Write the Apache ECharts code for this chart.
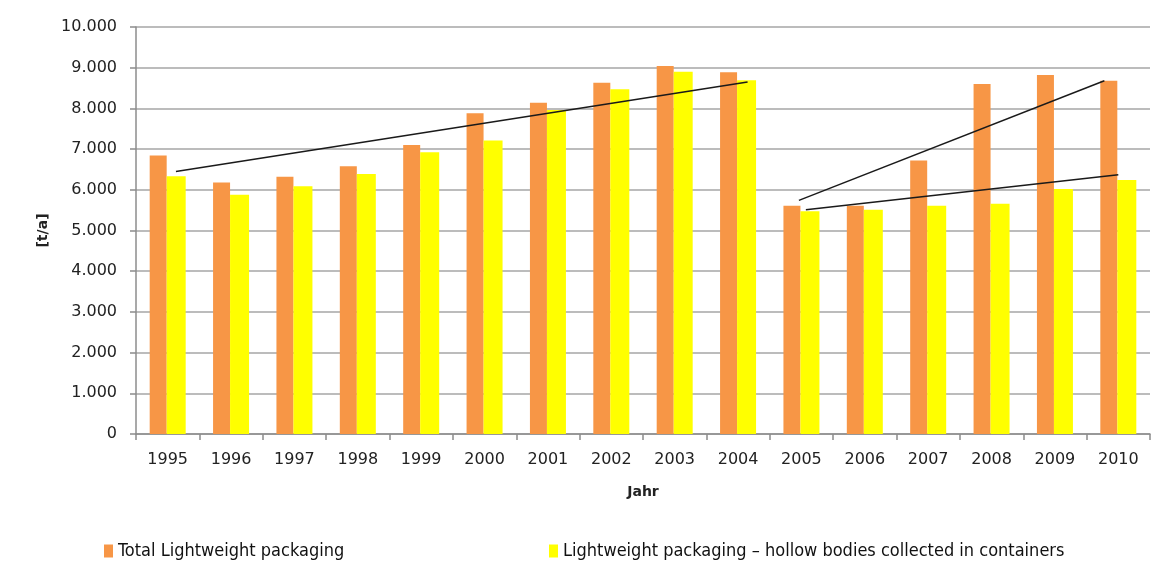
<!DOCTYPE html>
<html>
<head>
<meta charset="utf-8">
<title>Lightweight packaging</title>
<script src="https://cdn.jsdelivr.net/npm/echarts@6/dist/echarts.min.js"></script>
<style>
  html, body { margin: 0; padding: 0; background: #fff; }
  #chart { width: 1164px; height: 574px; }
</style>
</head>
<body>
<div id="chart"></div>
<script>
// data
const years = ['1995', '1996', '1997', '1998', '1999', '2000', '2001', '2002',
  '2003', '2004', '2005', '2006', '2007', '2008', '2009', '2010']
const totalLvp = [6840, 6180, 6320, 6580, 7100, 7880, 8140, 8630,
  9040, 8890, 5610, 5610, 6720, 8600, 8820, 8680]
const hollowBodies = [6330, 5880, 6090, 6390, 6920, 7210, 7960, 8470,
  8900, 8690, 5470, 5510, 5610, 5660, 6020, 6240]

// trend lines (x in years, drawn on a hidden value axis)
const trendAll = [[1995.13, 6450], [2004.15, 8650]]
const trendTotalLate = [[2004.96, 5740], [2009.78, 8680]]
const trendHollowLate = [[2005.07, 5510], [2010.0, 6370]]

const yTicks = { min: 0, max: 10000, interval: 1000 }

const fmt = v => v === 0 ? '0' : String(v).replace(/\B(?=(\d{3})+(?!\d))/g, '.')

const chart = echarts.init(document.getElementById('chart'))

const legendFont = {
  fontFamily: 'DejaVu Sans Condensed, Liberation Sans Narrow, Liberation Sans, sans-serif',
  fontSize: 18,
  color: '#111'
}

const trendSeries = (data) => ({
  type: 'line',
  xAxisIndex: 1,
  data: data,
  symbol: 'none',
  silent: true,
  lineStyle: { color: '#1a1a1a', width: 1.5 },
  z: 5
})

const option = {
  backgroundColor: '#fff',
  animation: false,
  textStyle: { fontFamily: 'DejaVu Sans, Verdana, sans-serif' },
  grid: { left: 136, right: 14, top: 27, bottom: 140 },
  legend: [
    {
      data: ['Total Lightweight packaging'],
      left: 99, top: 537,
      itemWidth: 9, itemHeight: 13, icon: 'rect',
      textStyle: legendFont
    },
    {
      data: ['Lightweight packaging \u2013 hollow bodies collected in containers'],
      left: 544, top: 537,
      itemWidth: 9, itemHeight: 13, icon: 'rect',
      textStyle: legendFont
    }
  ],
  xAxis: [
    {
      type: 'category',
      data: years,
      name: 'Jahr',
      nameLocation: 'middle',
      nameGap: 51,
      nameTextStyle: { fontWeight: 'bold', fontSize: 14, color: '#222' },
      axisLine: { lineStyle: { color: '#8c8c8c', width: 1.5 } },
      axisTick: { show: true, length: 6, lineStyle: { color: '#8c8c8c', width: 1.5 } },
      axisLabel: { fontSize: 16, color: '#222', margin: 18 }
    },
    {
      type: 'value',
      min: 1994.5,
      max: 2010.5,
      show: false
    }
  ],
  yAxis: {
    type: 'value',
    min: yTicks.min,
    max: yTicks.max,
    interval: yTicks.interval,
    name: '[t/a]',
    nameLocation: 'middle',
    nameGap: 83,
    nameTextStyle: { fontWeight: 'bold', fontSize: 14, color: '#222' },
    axisLine: { show: true, lineStyle: { color: '#8c8c8c', width: 1.5 } },
    axisTick: { show: true, length: 6, lineStyle: { color: '#8c8c8c', width: 1.5 } },
    axisLabel: { fontSize: 16, color: '#222', margin: 19, formatter: fmt },
    splitLine: { lineStyle: { color: '#a6a6a6', width: 1.5 } }
  },
  series: [
    {
      name: 'Total Lightweight packaging',
      type: 'bar',
      data: totalLvp,
      itemStyle: { color: '#F79646' },
      barWidth: 17,
      barGap: '0%'
    },
    {
      name: 'Lightweight packaging \u2013 hollow bodies collected in containers',
      type: 'bar',
      data: hollowBodies,
      itemStyle: { color: '#FFFF00' },
      barWidth: 19,
      barGap: '0%'
    },
    trendSeries(trendAll),
    trendSeries(trendTotalLate),
    trendSeries(trendHollowLate)
  ]
}

chart.setOption(option)
</script>
</body>
</html>
